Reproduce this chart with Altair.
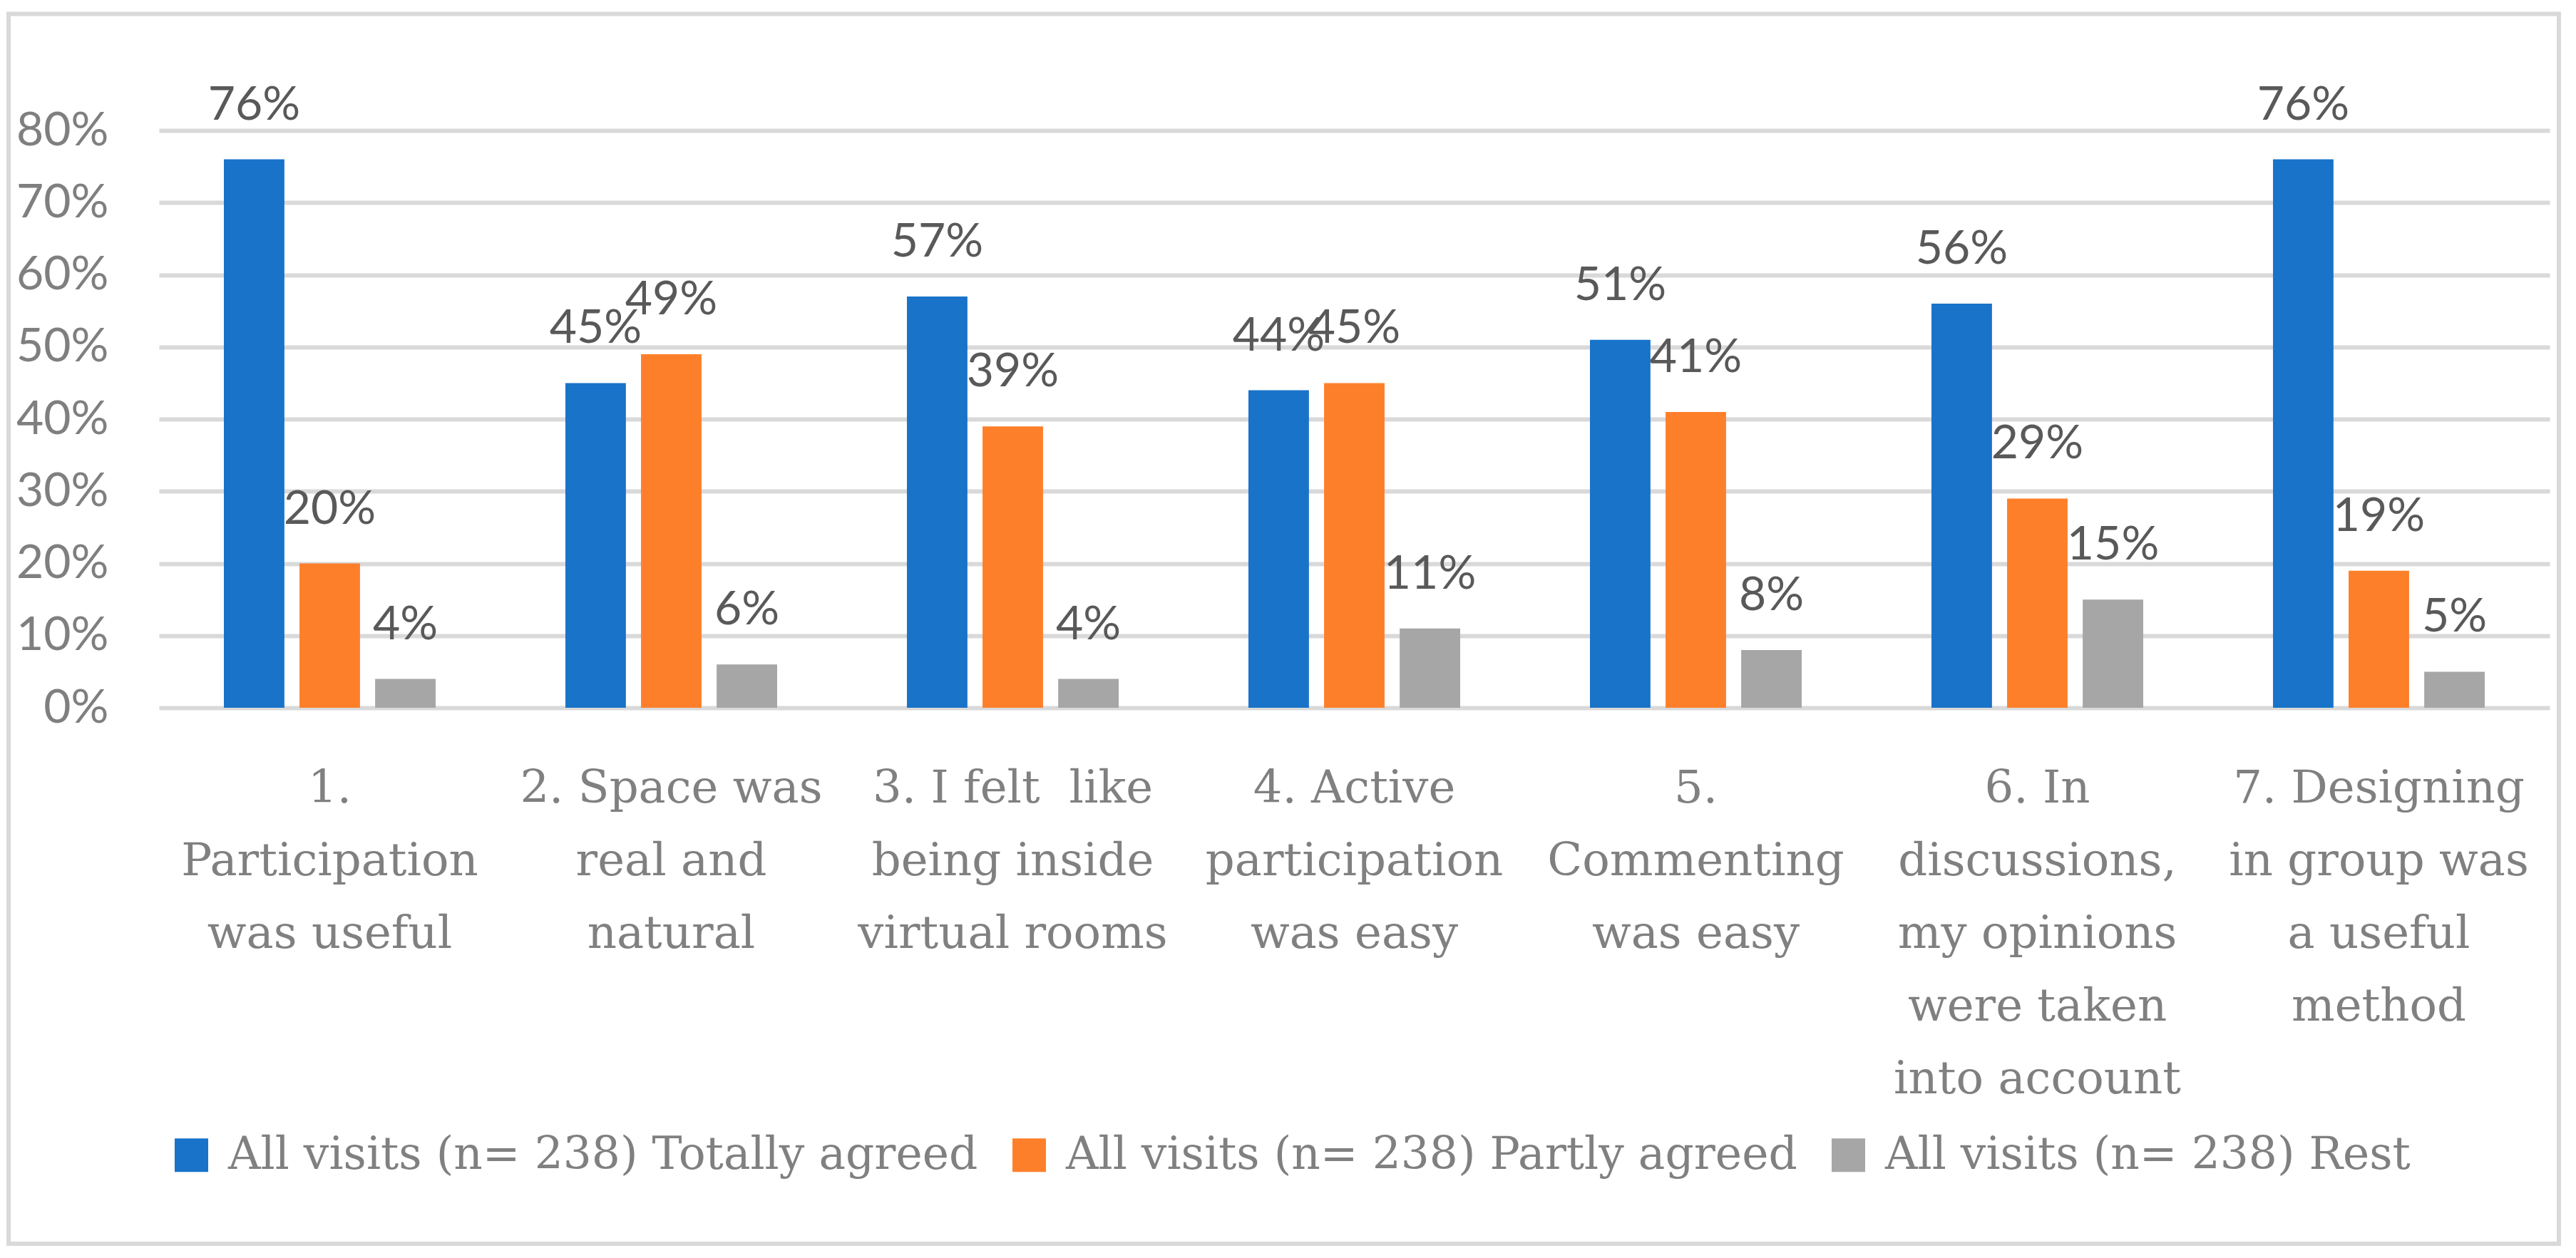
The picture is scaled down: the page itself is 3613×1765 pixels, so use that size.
import altair as alt
import pandas as pd

categories = [
    "1.|Participation|was useful",
    "2. Space was|real and|natural",
    "3. I felt\u00a0 like|being inside|virtual rooms",
    "4. Active|participation|was easy",
    "5.|Commenting|was easy",
    "6. In|discussions,|my opinions|were taken|into account",
    "7. Designing|in group was|a useful|method",
]
series = [
    "All visits (n= 238) Totally agreed",
    "All visits (n= 238) Partly agreed",
    "All visits (n= 238) Rest",
]
totally = [0.76, 0.45, 0.57, 0.44, 0.51, 0.56, 0.76]
partly = [0.20, 0.49, 0.39, 0.45, 0.41, 0.29, 0.19]
rest = [0.04, 0.06, 0.04, 0.11, 0.08, 0.15, 0.05]
colors = ["#1873C9", "#FE7F2A", "#A6A6A6"]

rows = []
for vals, s in zip([totally, partly, rest], series):
    for c, v in zip(categories, vals):
        rows.append({"cat": c, "series": s, "value": v})
df = pd.DataFrame(rows)

W, H = 3353, 810

x_enc = alt.X(
    "cat:N",
    sort=categories,
    scale=alt.Scale(paddingInner=0.38, paddingOuter=0.19),
    axis=alt.Axis(
        title=None,
        labelExpr="split(datum.label, '|')",
        labelFont="DejaVu Serif",
        labelFontSize=64,
        labelColor="#808080",
        labelLineHeight=102,
        labelBaseline="alphabetic",
        labelPadding=132,
        labelLimit=2000,
        labelOverlap=False,
        labelAngle=0,
        ticks=False,
        domain=False,
        grid=False,
    ),
)
xoff = alt.XOffset("series:N", sort=series, scale=alt.Scale(paddingInner=0.2, paddingOuter=0))
y_enc = alt.Y(
    "value:Q",
    scale=alt.Scale(domain=[0, 0.8], nice=False),
    axis=alt.Axis(
        title=None,
        format=".0%",
        values=[0, 0.1, 0.2, 0.3, 0.4, 0.5, 0.6, 0.7, 0.8],
        labelFont="Lato",
        labelFontSize=66,
        labelColor="#7F7F7F",
        labelPadding=71,
        ticks=False,
        domain=False,
        grid=True,
        gridColor="#D9D9D9",
        gridWidth=6,
    ),
)
color_enc = alt.Color(
    "series:N",
    sort=series,
    scale=alt.Scale(domain=series, range=colors),
    legend=alt.Legend(
        title=None,
        orient="none",
        legendX=14,
        legendY=1406,
        direction="horizontal",
        symbolType="square",
        symbolSize=2209,
        symbolStrokeWidth=0,
        labelFont="DejaVu Serif",
        labelFontSize=63,
        labelColor="#808080",
        labelOffset=20,
        columnPadding=40,
        labelLimit=3000,
    ),
)

frame = alt.Chart(pd.DataFrame({"a": [0]})).mark_rect(
    fill=None, stroke="#D9D9D9", strokeWidth=6
).encode(
    x=alt.value(-211), x2=alt.value(3366), y=alt.value(-163.5), y2=alt.value(1562)
)

bars = alt.Chart(df).mark_bar().encode(x=x_enc, xOffset=xoff, y=y_enc, color=color_enc)

labels = alt.Chart(df).mark_text(
    baseline="alphabetic", dy=-56, font="Lato", fontSize=66, color="#595959"
).encode(
    x=alt.X("cat:N", sort=categories),
    xOffset=alt.XOffset("series:N", sort=series),
    y="value:Q",
    text=alt.Text("value:Q", format=".0%"),
)

chart = alt.layer(frame, bars, labels).properties(
    width=W,
    height=H,
    autosize=alt.AutoSizeParams(type="none"),
    padding={"left": 215, "top": 175, "right": 29, "bottom": 764},
    background="white",
).configure_view(stroke=None)

chart.save("out.html", embed_options={"renderer": "svg", "actions": False})
